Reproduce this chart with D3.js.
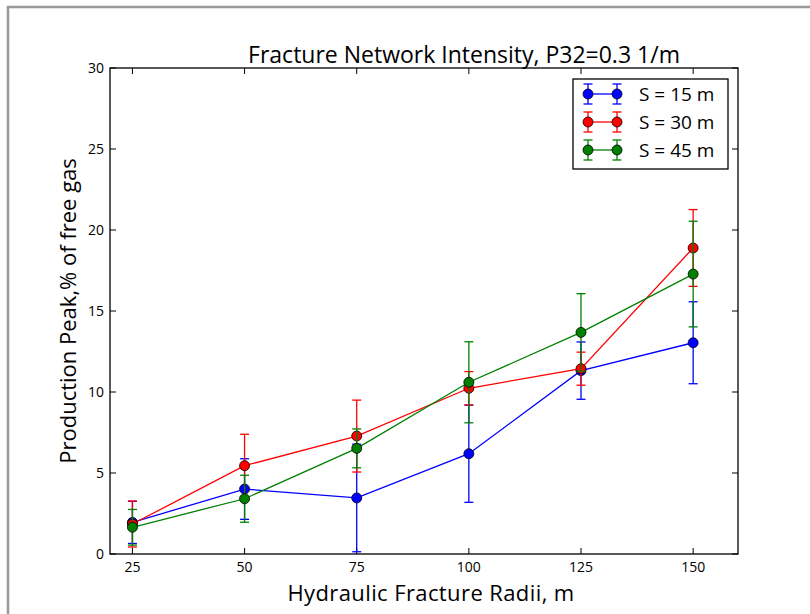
<!DOCTYPE html>
<html><head><meta charset="utf-8">
<script src="https://cdn.jsdelivr.net/npm/d3@7"></script>
<style>body{margin:0;background:#fff}svg{display:block}text{font-family:"Open Sans",sans-serif}</style>
</head><body><div id="c"></div>
<script>
const radii = [25, 50, 75, 100, 125, 150];
const seriesNames = ["S = 15 m", "S = 30 m", "S = 45 m"];
const seriesColors = ["#0000ff", "#ff0000", "#008000"];
const s15 = [1.95, 4.01, 3.46, 6.19, 11.32, 13.04];
const s15err = [1.3, 1.87, 3.32, 3.0, 1.77, 2.53];
const s30 = [1.85, 5.45, 7.28, 10.23, 11.44, 18.89];
const s30err = [1.42, 1.94, 2.22, 1.03, 1.02, 2.37];
const s45 = [1.65, 3.41, 6.52, 10.6, 13.68, 17.28];
const s45err = [1.1, 1.45, 1.2, 2.5, 2.39, 3.26];
const xTicks = [25, 50, 75, 100, 125, 150];
const yTicks = [0, 5, 10, 15, 20, 25, 30];
const titleText = "Fracture Network Intensity, P32=0.3 1/m";
const xLabel = "Hydraulic Fracture Radii, m";
const yLabel = "Production Peak,% of free gas";

const W = 810, H = 614;
const L = 110, R = 738, T = 68, B = 554;
const svg = d3.select("#c").append("svg").attr("width", W).attr("height", H);

svg.append("path").attr("d", `M8,614 V7 H810`).attr("fill", "none").attr("stroke", "#999").attr("stroke-width", 2.5);

const x = d3.scaleLinear().domain([20, 160]).range([L, R]);
const y = d3.scaleLinear().domain([0, 30]).range([B, T]);

const tl = 6;
const ax = svg.append("g");
xTicks.forEach(t => {
  ax.append("line").attr("x1", x(t)).attr("x2", x(t)).attr("y1", B).attr("y2", B - tl).attr("stroke", "#000");
  ax.append("line").attr("x1", x(t)).attr("x2", x(t)).attr("y1", T).attr("y2", T + tl).attr("stroke", "#000");
  ax.append("text").attr("x", x(t)).attr("y", B + 18).attr("text-anchor", "middle").attr("font-size", 14).text(t);
});
yTicks.forEach(t => {
  ax.append("line").attr("x1", L).attr("x2", L + tl).attr("y1", y(t)).attr("y2", y(t)).attr("stroke", "#000");
  ax.append("line").attr("x1", R).attr("x2", R - tl).attr("y1", y(t)).attr("y2", y(t)).attr("stroke", "#000");
  ax.append("text").attr("x", L - 6).attr("y", y(t) + 5).attr("text-anchor", "end").attr("font-size", 14).text(t);
});

const datasets = [[s15, s15err], [s30, s30err], [s45, s45err]];
const line = d3.line().x(d => x(d.x)).y(d => y(d.v));
const cap = 4.5;
datasets.forEach(([vals, errs], i) => {
  const col = seriesColors[i];
  const pts = radii.map((r, j) => ({x: r, v: vals[j], e: errs[j]}));
  const g = svg.append("g");
  pts.forEach(p => {
    g.append("line").attr("x1", x(p.x)).attr("x2", x(p.x)).attr("y1", y(p.v - p.e)).attr("y2", y(p.v + p.e)).attr("stroke", col).attr("stroke-width", 1.3);
    [p.v - p.e, p.v + p.e].forEach(v => g.append("line").attr("x1", x(p.x) - cap).attr("x2", x(p.x) + cap).attr("y1", y(v)).attr("y2", y(v)).attr("stroke", col).attr("stroke-width", 1.3));
  });
  g.append("path").datum(pts).attr("d", line).attr("fill", "none").attr("stroke", col).attr("stroke-width", 1.3);
  g.selectAll("circle").data(pts).enter().append("circle").attr("cx", d => x(d.x)).attr("cy", d => y(d.v)).attr("r", 5).attr("fill", col).attr("stroke", "#000").attr("stroke-width", 0.8);
});

svg.append("rect").attr("x", L).attr("y", T).attr("width", R - L).attr("height", B - T).attr("fill", "none").attr("stroke", "#000").attr("stroke-width", 1.3);

const lg = svg.append("g");
lg.append("rect").attr("x", 573).attr("y", 79).attr("width", 155).attr("height", 90).attr("fill", "#fff").attr("stroke", "#000").attr("stroke-width", 1.3);
seriesNames.forEach((n, i) => {
  const yy = 94 + i * 28, col = seriesColors[i];
  lg.append("line").attr("x1", 588).attr("x2", 617).attr("y1", yy).attr("y2", yy).attr("stroke", col).attr("stroke-width", 1.3);
  [588, 617].forEach(xx => {
    lg.append("line").attr("x1", xx).attr("x2", xx).attr("y1", yy - 10).attr("y2", yy + 10).attr("stroke", col).attr("stroke-width", 1.3);
    [yy - 10, yy + 10].forEach(cy => lg.append("line").attr("x1", xx - cap).attr("x2", xx + cap).attr("y1", cy).attr("y2", cy).attr("stroke", col).attr("stroke-width", 1.3));
    lg.append("circle").attr("cx", xx).attr("cy", yy).attr("r", 5).attr("fill", col).attr("stroke", "#000").attr("stroke-width", 0.8);
  });
  lg.append("text").attr("x", 639).attr("y", yy + 7).attr("font-size", 19).text(n);
});

svg.append("text").attr("x", 464).attr("y", 63).attr("text-anchor", "middle").attr("font-size", 23).text(titleText);
svg.append("text").attr("x", 431).attr("y", 601).attr("text-anchor", "middle").attr("font-size", 22).attr("letter-spacing", 0.4).text(xLabel);
svg.append("text").attr("transform", `translate(76,${(T + B) / 2}) rotate(-90)`).attr("text-anchor", "middle").attr("font-size", 22).text(yLabel);
</script></body></html>
